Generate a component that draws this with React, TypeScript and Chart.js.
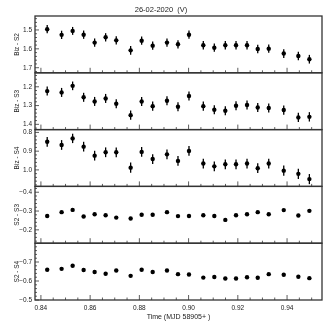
import React, { useEffect, useRef } from 'react';
import { Chart, registerables } from 'chart.js';

Chart.register(...registerables);

const FONT = '"Liberation Sans", Arial, sans-serif';

const chartTitle = '26-02-2020  (V)';
const xTitle = 'Time (MJD 58905+ )';
const panelLabels = ['Biz - S2', 'Biz - S3', 'Biz - S4', 'S2 - S3', 'S2 - S4'];

const xMin = 0.8376;
const xMax = 0.9542;

const yMin = [1.426, 1.1255, 0.785, -0.431, -0.799];
const yMax = [1.727, 1.428, 1.088, -0.129, -0.5];

const times = [
  0.84256, 0.84841, 0.85289, 0.85736, 0.86183, 0.8663, 0.87061, 0.87646, 0.88093, 0.88541,
  0.89122, 0.89569, 0.90016, 0.90598, 0.91045, 0.91492, 0.91927, 0.92374, 0.92809, 0.93256,
  0.93866, 0.94459, 0.94907,
];

const bizS2 = [
  1.496, 1.526, 1.505, 1.525, 1.567, 1.539, 1.555, 1.608, 1.557, 1.583,
  1.567, 1.576, 1.525, 1.581, 1.594, 1.581, 1.581, 1.581, 1.601, 1.599,
  1.625, 1.638, 1.655,
];
const bizS2Err = [
  0.022, 0.022, 0.021, 0.022, 0.022, 0.022, 0.022, 0.023, 0.022, 0.022,
  0.022, 0.022, 0.022, 0.022, 0.022, 0.022, 0.022, 0.022, 0.022, 0.022,
  0.023, 0.023, 0.023,
];

const bizS3 = [
  1.223, 1.23, 1.195, 1.256, 1.278, 1.262, 1.29, 1.351, 1.278, 1.303,
  1.274, 1.306, 1.249, 1.303, 1.322, 1.328, 1.301, 1.297, 1.31, 1.313,
  1.324, 1.363, 1.36,
];
const bizS3Err = [
  0.024, 0.024, 0.023, 0.024, 0.024, 0.024, 0.024, 0.025, 0.024, 0.024,
  0.024, 0.024, 0.024, 0.024, 0.024, 0.024, 0.024, 0.024, 0.024, 0.024,
  0.025, 0.025, 0.025,
];

const bizS4 = [
  0.85, 0.867, 0.832, 0.876, 0.924, 0.906, 0.906, 0.988, 0.904, 0.942,
  0.917, 0.952, 0.899, 0.966, 0.981, 0.97, 0.97, 0.966, 0.991, 0.966,
  1.004, 1.021, 1.049,
];
const bizS4Err = [
  0.026, 0.026, 0.025, 0.026, 0.026, 0.026, 0.026, 0.027, 0.026, 0.026,
  0.026, 0.026, 0.026, 0.026, 0.026, 0.026, 0.026, 0.026, 0.026, 0.026,
  0.027, 0.027, 0.027,
];

const s2s3 = [
  -0.274, -0.294, -0.306, -0.271, -0.283, -0.278, -0.265, -0.26, -0.28, -0.28,
  -0.294, -0.273, -0.274, -0.278, -0.274, -0.253, -0.278, -0.283, -0.294, -0.283,
  -0.305, -0.276, -0.301,
];
const s2s3Err = [
  0.006, 0.006, 0.006, 0.006, 0.006, 0.006, 0.006, 0.006, 0.006, 0.006,
  0.006, 0.006, 0.006, 0.006, 0.006, 0.006, 0.006, 0.006, 0.006, 0.006,
  0.006, 0.006, 0.006,
];

const s2s4 = [
  -0.659, -0.664, -0.68, -0.658, -0.647, -0.638, -0.655, -0.627, -0.659, -0.647,
  -0.655, -0.636, -0.634, -0.618, -0.621, -0.613, -0.613, -0.62, -0.617, -0.636,
  -0.633, -0.622, -0.615,
];
const s2s4Err = [
  0.006, 0.006, 0.006, 0.006, 0.006, 0.006, 0.006, 0.006, 0.006, 0.006,
  0.006, 0.006, 0.006, 0.006, 0.006, 0.006, 0.006, 0.006, 0.006, 0.006,
  0.006, 0.006, 0.006,
];

const panelIds = panelLabels.map((_, i) => 'y' + i);

const fmtY = (v: number) => {
  const s = Number(v).toFixed(1);
  return s.startsWith('-') ? '\u2212' + s.slice(1) : s;
};

const panelPlugin = {
  id: 'panelPlugin',
  beforeDatasetsDraw(chart: any) {
    const { ctx } = chart;
    ctx.save();
    ctx.strokeStyle = '#000';
    ctx.lineWidth = 1.3;
    chart.data.datasets.forEach((ds: any, i: number) => {
      const meta = chart.getDatasetMeta(i);
      const ys = chart.scales[meta.yAxisID];
      meta.data.forEach((el: any, j: number) => {
        const v = ds.data[j].y;
        const e = ds.errors[j];
        const y1 = ys.getPixelForValue(v - e);
        const y2 = ys.getPixelForValue(v + e);
        ctx.beginPath();
        ctx.moveTo(el.x, y1);
        ctx.lineTo(el.x, y2);
        ctx.stroke();
      });
    });
    ctx.restore();
  },
  afterDraw(chart: any) {
    const { ctx, chartArea } = chart;
    const xs = chart.scales.x;
    const left = chartArea.left;
    const right = chartArea.right;
    ctx.save();
    panelIds.forEach((id) => {
      const s = chart.scales[id];
      ctx.strokeStyle = '#333';
      ctx.lineWidth = 0.8;
      const yStep = 0.02;
      const lo = Math.min(s.min, s.max);
      const hi = Math.max(s.min, s.max);
      for (let k = Math.ceil(lo / yStep - 1e-6); k * yStep <= hi + 1e-9; k++) {
        const v = k * yStep;
        const major = Math.abs(Math.round(v * 10) - v * 10) < 1e-6;
        const y = s.getPixelForValue(v);
        ctx.beginPath();
        ctx.moveTo(left, y);
        ctx.lineTo(left + (major ? 4 : 2), y);
        ctx.stroke();
      }
      const xStep = 0.005;
      for (let k = Math.ceil(xs.min / xStep - 1e-6); k * xStep <= xs.max + 1e-9; k++) {
        const v = k * xStep;
        const major = Math.abs(Math.round(v * 50) - v * 50) < 1e-6;
        const x = xs.getPixelForValue(v);
        ctx.beginPath();
        ctx.moveTo(x, s.bottom);
        ctx.lineTo(x, s.bottom - (major ? 5 : 2.5));
        ctx.stroke();
      }
      ctx.strokeStyle = '#333';
      ctx.lineWidth = 1.3;
      ctx.strokeRect(left, s.top, right - left, s.bottom - s.top);
    });
    ctx.restore();
  },
};

export default function App() {
  const ref = useRef<HTMLCanvasElement>(null);

  useEffect(() => {
    if (!ref.current) return;
    const series = [bizS2, bizS3, bizS4, s2s3, s2s4];
    const errs = [bizS2Err, bizS3Err, bizS4Err, s2s3Err, s2s4Err];
    const datasets = series.map((vals, i) => ({
      label: panelLabels[i],
      data: vals.map((v, j) => ({ x: times[j], y: v })),
      errors: errs[i],
      yAxisID: panelIds[i],
      showLine: false,
      pointRadius: 2.2,
      pointBackgroundColor: '#000',
      pointBorderWidth: 0,
      pointHoverRadius: 2.2,
    }));
    const tickFont = { family: FONT, size: 6.5 };
    const scales: any = {
      x: {
        type: 'linear',
        position: 'bottom',
        min: xMin,
        max: xMax,
        grid: { display: false, drawTicks: false },
        border: { display: false },
        ticks: {
          stepSize: 0.02,
          includeBounds: false,
          padding: 4,
          color: '#222',
          font: tickFont,
          maxRotation: 0,
          autoSkip: false,
          callback: (v: any) => Number(v).toFixed(2),
        },
        title: {
          display: true,
          text: xTitle,
          color: '#222',
          font: { family: FONT, size: 7 },
          padding: { top: 0, bottom: 5.8 },
        },
        afterFit: (s: any) => {
          s.height = 27;
        },
      },
    };
    // stacked axes are laid out bottom-up, so add them in reverse order
    for (let i = panelIds.length - 1; i >= 0; i--) {
      scales[panelIds[i]] = {
        type: 'linear',
        position: 'left',
        stack: 'panels',
        stackWeight: 1,
        reverse: true,
        min: yMin[i],
        max: yMax[i],
        grid: { display: false, drawTicks: false },
        border: { display: false },
        ticks: {
          stepSize: 0.1,
          includeBounds: false,
          padding: 3,
          color: '#222',
          font: tickFont,
          autoSkip: false,
          callback: (v: any) => fmtY(v),
        },
        title: {
          display: true,
          text: panelLabels[i],
          color: '#222',
          font: { family: FONT, size: 6.5 },
          padding: { top: 13, bottom: 0 },
        },
        afterFit: (s: any) => {
          s.width = 35;
        },
      };
    }

    const chart = new Chart(ref.current, {
      type: 'scatter',
      data: { datasets } as any,
      options: {
        responsive: false,
        animation: false,
        devicePixelRatio: 1,
        layout: { padding: { left: 0, right: 5, top: 0, bottom: 0 } },
        plugins: {
          legend: { display: false },
          tooltip: { enabled: false },
          title: {
            display: true,
            text: chartTitle,
            color: '#222',
            font: { family: FONT, size: 7.5, weight: 'normal' },
            padding: { top: 5.5, bottom: 1.5 },
          },
        },
        scales,
      } as any,
      plugins: [panelPlugin],
    });
    return () => chart.destroy();
  }, []);

  return (
    <div style={{ position: 'fixed', left: 0, top: 0, width: 327, height: 327, background: '#fff' }}>
      <canvas ref={ref} width={327} height={327} style={{ display: 'block' }} />
    </div>
  );
}
